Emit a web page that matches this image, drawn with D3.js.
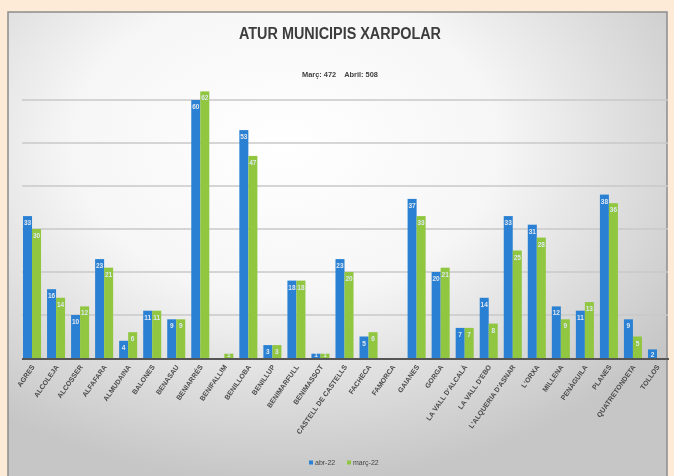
<!DOCTYPE html>
<html>
<head>
<meta charset="utf-8">
<script src="https://cdn.jsdelivr.net/npm/d3@7"></script>
<style>
  body { margin: 0; background: #fdebd7; }
  svg { display: block; }
</style>
</head>
<body>
<script>
// municipis i dades d'atur (llegides del gràfic)
var municipis = ["AGRES", "ALCOLEJA", "ALCOSSER", "ALFAFARA", "ALMUDAINA", "BALONES", "BENASAU",
  "BENIARRÉS", "BENIFALLIM", "BENILLOBA", "BENILLUP", "BENIMARFULL", "BENIMASSOT",
  "CASTELL DE CASTELLS", "FACHECA", "FAMORCA", "GAIANES", "GORGA", "LA VALL D'ALCALÀ",
  "LA VALL D'EBO", "L'ALQUERIA D'ASNAR", "L'ORXA", "MILLENA", "PENÀGUILA", "PLANES",
  "QUATRETONDETA", "TOLLOS"];
var abr22 = [33, 16, 10, 23, 4, 11, 9, 60, 0, 53, 3, 18, 1, 23, 5, 0, 37, 20, 7, 14, 33, 31, 12, 11, 38, 9, 2];
var marc22 = [30, 14, 12, 21, 6, 11, 9, 62, 1, 47, 3, 18, 1, 20, 6, 0, 33, 21, 7, 8, 25, 28, 9, 13, 36, 5, 0];
var series = ["abr-22", "març-22"];
var colors = ["#2b80d2", "#90c63f"];
var yTicks = [10, 20, 30, 40, 50, 60];

window.onload = function () {
  var width = 674,
      height = 476;
  var font = "Liberation Sans, Arial, sans-serif";

  var svg = d3.select("body")
    .append("svg")
    .attr("width", width)
    .attr("height", height);

  var defs = svg.append("defs");
  var grad = defs.append("radialGradient")
    .attr("id", "bg")
    .attr("cx", "42%").attr("cy", "28%").attr("r", "72%");
  grad.append("stop").attr("offset", "0%").attr("stop-color", "#ffffff");
  grad.append("stop").attr("offset", "45%").attr("stop-color", "#f6f6f6");
  grad.append("stop").attr("offset", "100%").attr("stop-color", "#c6c6c6");

  var blur = defs.append("filter").attr("id", "soft");
  blur.append("feGaussianBlur").attr("stdDeviation", 0.35);

  // marc del gràfic
  svg.append("rect")
    .attr("x", 8).attr("y", 12)
    .attr("width", 659).attr("height", 470)
    .attr("fill", "url(#bg)")
    .attr("stroke", "#8c8c8c")
    .attr("stroke-width", 1.5);

  var g = svg.append("g").attr("filter", "url(#soft)");

  var x = d3.scaleBand()
    .domain(municipis)
    .range([20, 669])
    .paddingInner(0.25)
    .paddingOuter(0.125);

  var x1 = d3.scaleBand()
    .domain(series)
    .range([0, x.bandwidth()]);

  var y = d3.scaleLinear()
    .domain([0, 70])
    .range([358, 57]);

  // línies de la graella
  g.selectAll(".grid")
    .data(yTicks)
    .enter()
    .append("line")
    .attr("class", "grid")
    .attr("x1", 22).attr("x2", 668)
    .attr("y1", function (d) { return y(d); })
    .attr("y2", function (d) { return y(d); })
    .attr("stroke", "#c9c9c9")
    .attr("stroke-width", 1.6);

  var rows = municipis.map(function (m, i) {
    return { nom: m, vals: [abr22[i], marc22[i]] };
  });

  var groups = g.selectAll(".grp")
    .data(rows)
    .enter()
    .append("g")
    .attr("class", "grp")
    .attr("transform", function (d) { return "translate(" + x(d.nom) + ",0)"; });

  var bars = groups.selectAll("g.bar")
    .data(function (d) {
      return d.vals.map(function (v, j) { return { s: series[j], v: v, j: j }; });
    })
    .enter()
    .append("g")
    .attr("class", "bar");

  bars.append("rect")
    .attr("x", function (d) { return x1(d.s); })
    .attr("y", function (d) { return y(d.v); })
    .attr("width", x1.bandwidth())
    .attr("height", function (d) { return y(0) - y(d.v); })
    .attr("fill", function (d) { return colors[d.j]; });

  // etiquetes de valor dins les barres
  bars.filter(function (d) { return d.v > 0; })
    .append("text")
    .attr("x", function (d) { return x1(d.s) + x1.bandwidth() / 2; })
    .attr("y", function (d) { return Math.min(y(d.v) + 9, y(0) - 1); })
    .attr("text-anchor", "middle")
    .attr("font-family", font)
    .attr("font-size", 6.5)
    .attr("font-weight", "bold")
    .attr("fill", "#dfe8f2")
    .text(function (d) { return d.v; });

  // eix X
  g.append("line")
    .attr("x1", 22).attr("x2", 669)
    .attr("y1", y(0) + 1).attr("y2", y(0) + 1)
    .attr("stroke", "#555")
    .attr("stroke-width", 2);

  g.selectAll(".xlab")
    .data(municipis)
    .enter()
    .append("text")
    .attr("class", "xlab")
    .attr("transform", function (d) {
      return "translate(" + (x(d) + x.bandwidth() / 2 + 3) + "," + (y(0) + 9) + ") rotate(-55)";
    })
    .attr("text-anchor", "end")
    .attr("font-family", font)
    .attr("font-size", 7)
    .attr("font-weight", "bold")
    .attr("fill", "#4a4a4a")
    .text(function (d) { return d; });

  // títol i subtítol
  g.append("text")
    .attr("x", 340).attr("y", 39)
    .attr("text-anchor", "middle")
    .attr("font-family", font)
    .attr("font-size", 16)
    .attr("font-weight", "bold")
    .attr("fill", "#3c3c3c")
    .attr("textLength", 202)
    .attr("lengthAdjust", "spacingAndGlyphs")
    .text("ATUR MUNICIPIS XARPOLAR");

  g.append("text")
    .attr("x", 340).attr("y", 77)
    .attr("text-anchor", "middle")
    .attr("font-family", font)
    .attr("font-size", 7.5)
    .attr("font-weight", "bold")
    .attr("fill", "#404040")
    .attr("xml:space", "preserve")
    .attr("textLength", 76)
    .attr("lengthAdjust", "spacingAndGlyphs")
    .text("Març: 472    Abril: 508");

  // llegenda
  var leg = g.selectAll(".leg")
    .data(series)
    .enter()
    .append("g")
    .attr("class", "leg")
    .attr("transform", function (d, i) { return "translate(" + (309 + i * 38) + ",463)"; });

  leg.append("rect")
    .attr("x", 0).attr("y", -2.5)
    .attr("width", 4).attr("height", 4)
    .attr("fill", function (d, i) { return colors[i]; });

  leg.append("text")
    .attr("x", 6).attr("y", 0)
    .attr("dominant-baseline", "middle")
    .attr("font-family", font)
    .attr("font-size", 7)
    .attr("fill", "#444")
    .text(function (d) { return d; });
};
</script>
</body>
</html>
